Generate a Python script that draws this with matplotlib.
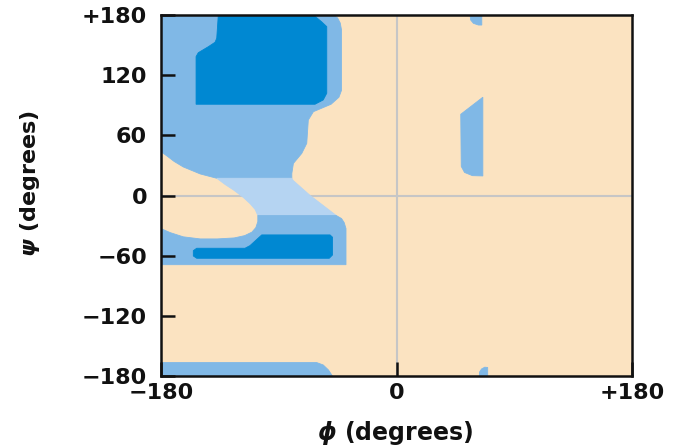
import matplotlib.pyplot as plt

# ---- colours ----
BEIGE = "#fbe3c1"
MED = "#80b8e6"
DARK = "#0088d2"
LIGHT = "#b5d4f2"
GRID = "#c6c6c6"

# ---- region outlines (phi, psi) in degrees ----
ul_med = [(-180, 180), (-48, 180), (-45, 177), (-43, 172), (-42, 165), (-42, 105),
          (-44, 98), (-50, 91), (-63.5, 83.6), (-67.4, 75.3), (-68.6, 52), (-72.4, 42),
          (-78.8, 32), (-80, 22), (-80, 17.2), (-137.4, 17.2), (-150, 21.5),
          (-163, 28.5), (-170, 34), (-175, 39), (-180, 43.7)]

ul_dark = [(-136.2, 180), (-63.5, 180), (-57.3, 173.3), (-53.3, 168.4), (-53.3, 102),
           (-56, 95.3), (-62.3, 91), (-153.2, 91), (-153.2, 138.5), (-151.5, 142.4),
           (-143.8, 148.4), (-138.7, 152.8), (-137.4, 156.8)]

mid_light = [(-137.4, 17.2), (-80, 17.2), (-79, 15), (-66, 0), (-46, -20),
             (-106, -20), (-108, -14), (-112, -8), (-117, -2), (-124, 5),
             (-131, 11)]

ll_med = [(-180, -33), (-173, -37), (-163, -41.2), (-150, -43.3), (-137, -43.3),
          (-124, -42.3), (-116, -40), (-110.5, -36.5), (-107.5, -32), (-106, -26),
          (-106, -20), (-46, -20), (-42, -23), (-40, -27), (-38.6, -33),
          (-38.6, -69), (-180, -69)]

ll_dark = [(-152.7, -52.6), (-115.8, -52.6), (-112, -50), (-103, -39.3), (-50.8, -39.3),
           (-48.9, -41.6), (-48.9, -59.3), (-51.4, -62.6), (-152.7, -62.6),
           (-155.3, -60.3), (-155.3, -55)]

bot_med = [(-180, -180), (-180, -166.6), (-61, -166.6), (-56, -169), (-52, -174),
           (-49, -180)]

r_med = [(49.1, 81), (66, 98), (66, 19.5), (58, 19.8), (52, 23), (49.5, 29)]

r_top = [(56.2, 180), (56.7, 175), (58.8, 171.7), (62.6, 170), (65.2, 170), (65.2, 180)]

r_bot = [(63.3, -180), (63.5, -176), (65, -173), (67.5, -171.2), (69.7, -171.5),
         (69.7, -180)]

regions = [(ul_med, MED), (mid_light, LIGHT), (ll_med, MED), (bot_med, MED),
           (r_med, MED), (r_top, MED), (r_bot, MED), (ul_dark, DARK), (ll_dark, DARK)]

# ---- ticks ----
x_ticks = [-180, 0, 180]
x_labels = ["\u2212180", "0", "+180"]
y_ticks = [-180, -120, -60, 0, 60, 120, 180]
y_labels = ["\u2212180", "\u2212120", "\u221260", "0", "60", "120", "+180"]

plt.rcParams["mathtext.fontset"] = "custom"
plt.rcParams["mathtext.it"] = "DejaVu Sans:italic:bold"
plt.rcParams["mathtext.rm"] = "DejaVu Sans:bold"
plt.rcParams["font.family"] = ["DejaVu Sans"]

fig = plt.figure(figsize=(6.74, 4.47), dpi=100)
ax = fig.add_axes([161 / 674, 71 / 447, 471 / 674, 361 / 447])
ax.set_facecolor(BEIGE)

ax.axhline(0, color=GRID, lw=1.5, zorder=0.5)
ax.axvline(0, color=GRID, lw=1.5, zorder=0.5)

for verts, col in regions:
    phi = [v[0] for v in verts]
    psi = [v[1] for v in verts]
    ax.fill(phi, psi, color=col, lw=0.6, ec=col, zorder=1)

ax.set_xlim(-180, 180)
ax.set_ylim(-180, 180)
ax.set_xticks(x_ticks)
ax.set_xticklabels(x_labels)
ax.set_yticks(y_ticks)
ax.set_yticklabels(y_labels)
ax.tick_params(direction="in", length=10, width=1.8, labelsize=16, color="#111111")
ax.tick_params(axis="y", pad=10)
ax.tick_params(axis="x", pad=5)
for lab in ax.get_xticklabels() + ax.get_yticklabels():
    lab.set_fontweight("bold")
    lab.set_color("#111111")
for sp in ax.spines.values():
    sp.set_linewidth(1.8)
    sp.set_color("#111111")
    sp.set_zorder(5)

fig.text(395 / 674, 1 - 433 / 447, r"$\phi$ (degrees)", ha="center", va="center",
         fontsize=17, fontweight="bold", color="#111111")
fig.text(30 / 674, 1 - 183 / 447, r"$\psi$ (degrees)", ha="center", va="center",
         rotation=90, fontsize=16, fontweight="bold", color="#111111")

fig.savefig("out.png", dpi=100)
